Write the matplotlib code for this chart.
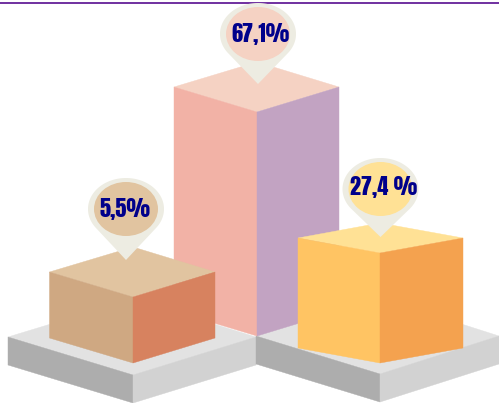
import numpy as np
import matplotlib
matplotlib.use("Agg")
import matplotlib.pyplot as plt
from matplotlib.patches import Polygon, Ellipse

labels = ["5,5%", "67,1%", "27,4 %"]
values = [5.5, 67.1, 27.4]
box_heights = [66, 224, 110]

top_colors = ["#E1C4A0", "#F5D2C3", "#FFE195"]
left_colors = ["#CFA882", "#F2B2A6", "#FFC463"]
right_colors = ["#D7825F", "#C2A3C2", "#F4A24F"]

fig = plt.figure(figsize=(4.99, 4.03), dpi=100)
ax = fig.add_axes([0, 0, 1, 1])
ax.set_xlim(0, 499)
ax.set_ylim(403, 0)
ax.axis("off")


def face(pts, color, z):
    ax.add_patch(Polygon(pts, closed=True, fc=color, ec=color, lw=0.3, zorder=z))


def platform(xl, xc, xr, y_side, y_front, y_back, thick):
    face([(xl, y_side), (xc, y_back), (xr, y_side), (xc, y_front)], "#E2E2E2", 1)
    face([(xl, y_side), (xc, y_front), (xc, y_front + thick), (xl, y_side + thick)], "#ADADAD", 1)
    face([(xc, y_front), (xr, y_side), (xr, y_side + thick), (xc, y_front + thick)], "#D2D2D2", 1)


def box(xl, xc, xr, y_side, dy, h, i, z):
    y_front = y_side + dy
    face([(xl, y_side), (xc, y_side - dy), (xr, y_side), (xc, y_front)], top_colors[i], z)
    face([(xl, y_side), (xc, y_front), (xc, y_front + h), (xl, y_side + h)], left_colors[i], z)
    face([(xc, y_front), (xr, y_side), (xr, y_side + h), (xc, y_front + h)], right_colors[i], z)


def pin(cx, cy, tip_y, color, text, tx, ty):
    rx, ry = 38, 31
    big_d = (tip_y - cy) / ry
    phi = np.arccos(1 / big_d)
    # angles measured from the bottom of the ellipse, tangent to the lines from the tip
    t = np.linspace(phi, 2 * np.pi - phi, 160)
    xs = cx + rx * np.sin(t)
    ys = cy + ry * np.cos(t)
    pts = np.vstack([np.column_stack([xs, ys]), [(cx, tip_y)]])
    ax.add_patch(Polygon(pts, closed=True, fc="#EDECE2", ec="none", zorder=6))
    ax.add_patch(Ellipse((cx, cy), 64, 54, fc=color, ec="none", zorder=7))
    ax.text(tx, ty, text, ha="center", va="center_baseline", color="#00008B", fontsize=16,
            family=["Anton", "Oswald", "Saira ExtraCondensed"], zorder=8)


ax.plot([0, 499], [2.9, 2.9], color="#7030A0", lw=1.4, solid_capstyle="butt", zorder=5)

platform(8, 133, 256, 337, 375, 299, 28)
platform(256, 380, 499, 336, 374, 298, 28)

box(174, 257, 339, 87, 25, box_heights[1], 1, 2)
box(49.5, 133, 215, 272, 25, box_heights[0], 0, 3)
box(298, 380, 463, 238, 15, box_heights[2], 2, 3)

pin(126, 209, 260, top_colors[0], labels[0], 125, 208)
pin(258, 34, 84, top_colors[1], labels[1], 261, 32.5)
pin(380.5, 189, 237, top_colors[2], labels[2], 384, 186)

fig.savefig("out.png", dpi=100, facecolor="white")
